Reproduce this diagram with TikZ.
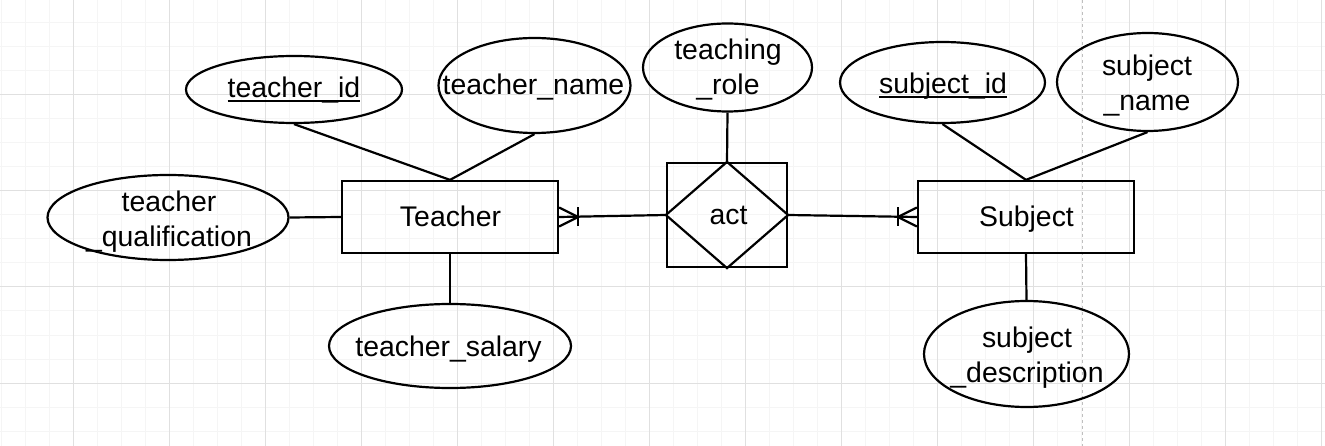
\documentclass[tikz,border=0pt]{standalone}
\usepackage{fontspec}
\setmainfont{Liberation Sans}
\usetikzlibrary{shapes.geometric,calc}
\newcommand\ulx[1]{\setbox0\hbox{#1}\rlap{\rule[-4.6pt]{\wd0}{1.8pt}}\box0}
\tikzset{
  ent/.style={draw=black, line width=2.2pt, rectangle, inner sep=0pt},
  attr/.style={draw=black, line width=2.2pt, ellipse, inner sep=0pt},
  txt/.style={inner sep=0pt, align=center, font=\fontsize{28.4}{35.5}\selectfont},
  conn/.style={draw=black, line width=2.2pt},
  gminor/.style={draw=black!4, line width=1pt},
  gmajor/.style={draw=black!12, line width=1pt},
}
\begin{document}
\begin{tikzpicture}[x=1pt,y=-1pt]
\useasboundingbox (0,0) rectangle (1325,446);
\fill[white] (0,0) rectangle (1325,446);
% grid
\foreach \x in {1,25,...,1321} \draw[gminor] (\x,0) -- (\x,446);
\foreach \y in {23,47,...,443} \draw[gminor] (0,\y) -- (1325,\y);
\foreach \x in {73,169,...,1321} \draw[gmajor] (\x,0) -- (\x,446);
\foreach \y in {95,191,287,383} \draw[gmajor] (0,\y) -- (1325,\y);
\draw[black!25, line width=1pt, dash pattern=on 3pt off 3pt] (1082,0) -- (1082,446);

% entities
\node[ent, minimum width=216, minimum height=72] (teacher) at (450,217) {};
\node[ent, minimum width=216, minimum height=72] (subject) at (1026,217) {};
\node[ent, minimum width=120, minimum height=104] (act) at (727,215) {};
\draw[conn, line join=miter] (act.north) -- (act.east) -- (act.south) -- (act.west) -- cycle;

% attributes
\node[attr, minimum width=216, minimum height=67] (tid) at (294,89.5) {};
\node[attr, minimum width=192, minimum height=95] (tname) at (534.5,85.5) {};
\node[attr, minimum width=241, minimum height=85] (tqual) at (168,217.5) {};
\node[attr, minimum width=242, minimum height=84] (tsal) at (450,346) {};
\node[attr, minimum width=169, minimum height=88] (trole) at (727.5,67.5) {};
\node[attr, minimum width=205, minimum height=81] (sid) at (942.5,82.5) {};
\node[attr, minimum width=181, minimum height=98] (sname) at (1147.5,82) {};
\node[attr, minimum width=205, minimum height=106] (sdesc) at (1026.5,354) {};

% texts
\node[txt, anchor=base] (lteacher) at (450.5,227) {Teacher};
\node[txt, anchor=base] (lsubject) at (1026.5,227) {Subject};
\node[txt, anchor=base] (lact) at (728.5,224.5) {act};
\node[txt, anchor=base] (ltid) at (294,97.3) {\ulx{teacher\_id}};
\node[txt, anchor=base] (ltname) at (533.5,95) {teacher\_name};
\node[txt, anchor=base] (ltsal) at (448.5,356.7) {teacher\_salary};
\node[txt, anchor=base] (lsid) at (943,93.3) {\ulx{subject\_id}};
\node[txt] (ltqual) at (169,221.5) {teacher\\\_qualification};
\node[txt] (ltrole) at (728,69.5) {teaching\\\_role};
\node[txt] (lsname) at (1147,85.5) {subject\\\_name};
\node[txt] (lsdesc) at (1027,357.5) {subject\\\_description};

% connectors
\draw[conn] (tid.south) -- (teacher.north);
\draw[conn] (tname.south) -- (teacher.north);
\draw[conn] (tqual.east) -- (teacher.west);
\draw[conn] (teacher.south) -- (tsal.north);
\draw[conn] (trole.south) -- (act.north);
\draw[conn] (sid.south) -- (subject.north);
\draw[conn] (sname.south) -- (subject.north);
\draw[conn] (subject.south) -- (sdesc.north);

% relationships with crow's feet
\draw[conn] (act.west) -- (teacher.east);
\draw[conn] ($(teacher.east)+(0,-9.5)$) -- ($(teacher.east)+(19,0)$) -- ($(teacher.east)+(0,9.5)$);
\draw[conn] ($(teacher.east)+(19,-9.5)$) -- ($(teacher.east)+(19,9.5)$);
\draw[conn] (act.east) -- (subject.west);
\draw[conn] ($(subject.west)+(0,-9.5)$) -- ($(subject.west)+(-19,0)$) -- ($(subject.west)+(0,9.5)$);
\draw[conn] ($(subject.west)+(-19,-9.5)$) -- ($(subject.west)+(-19,9.5)$);
\end{tikzpicture}
\end{document}
